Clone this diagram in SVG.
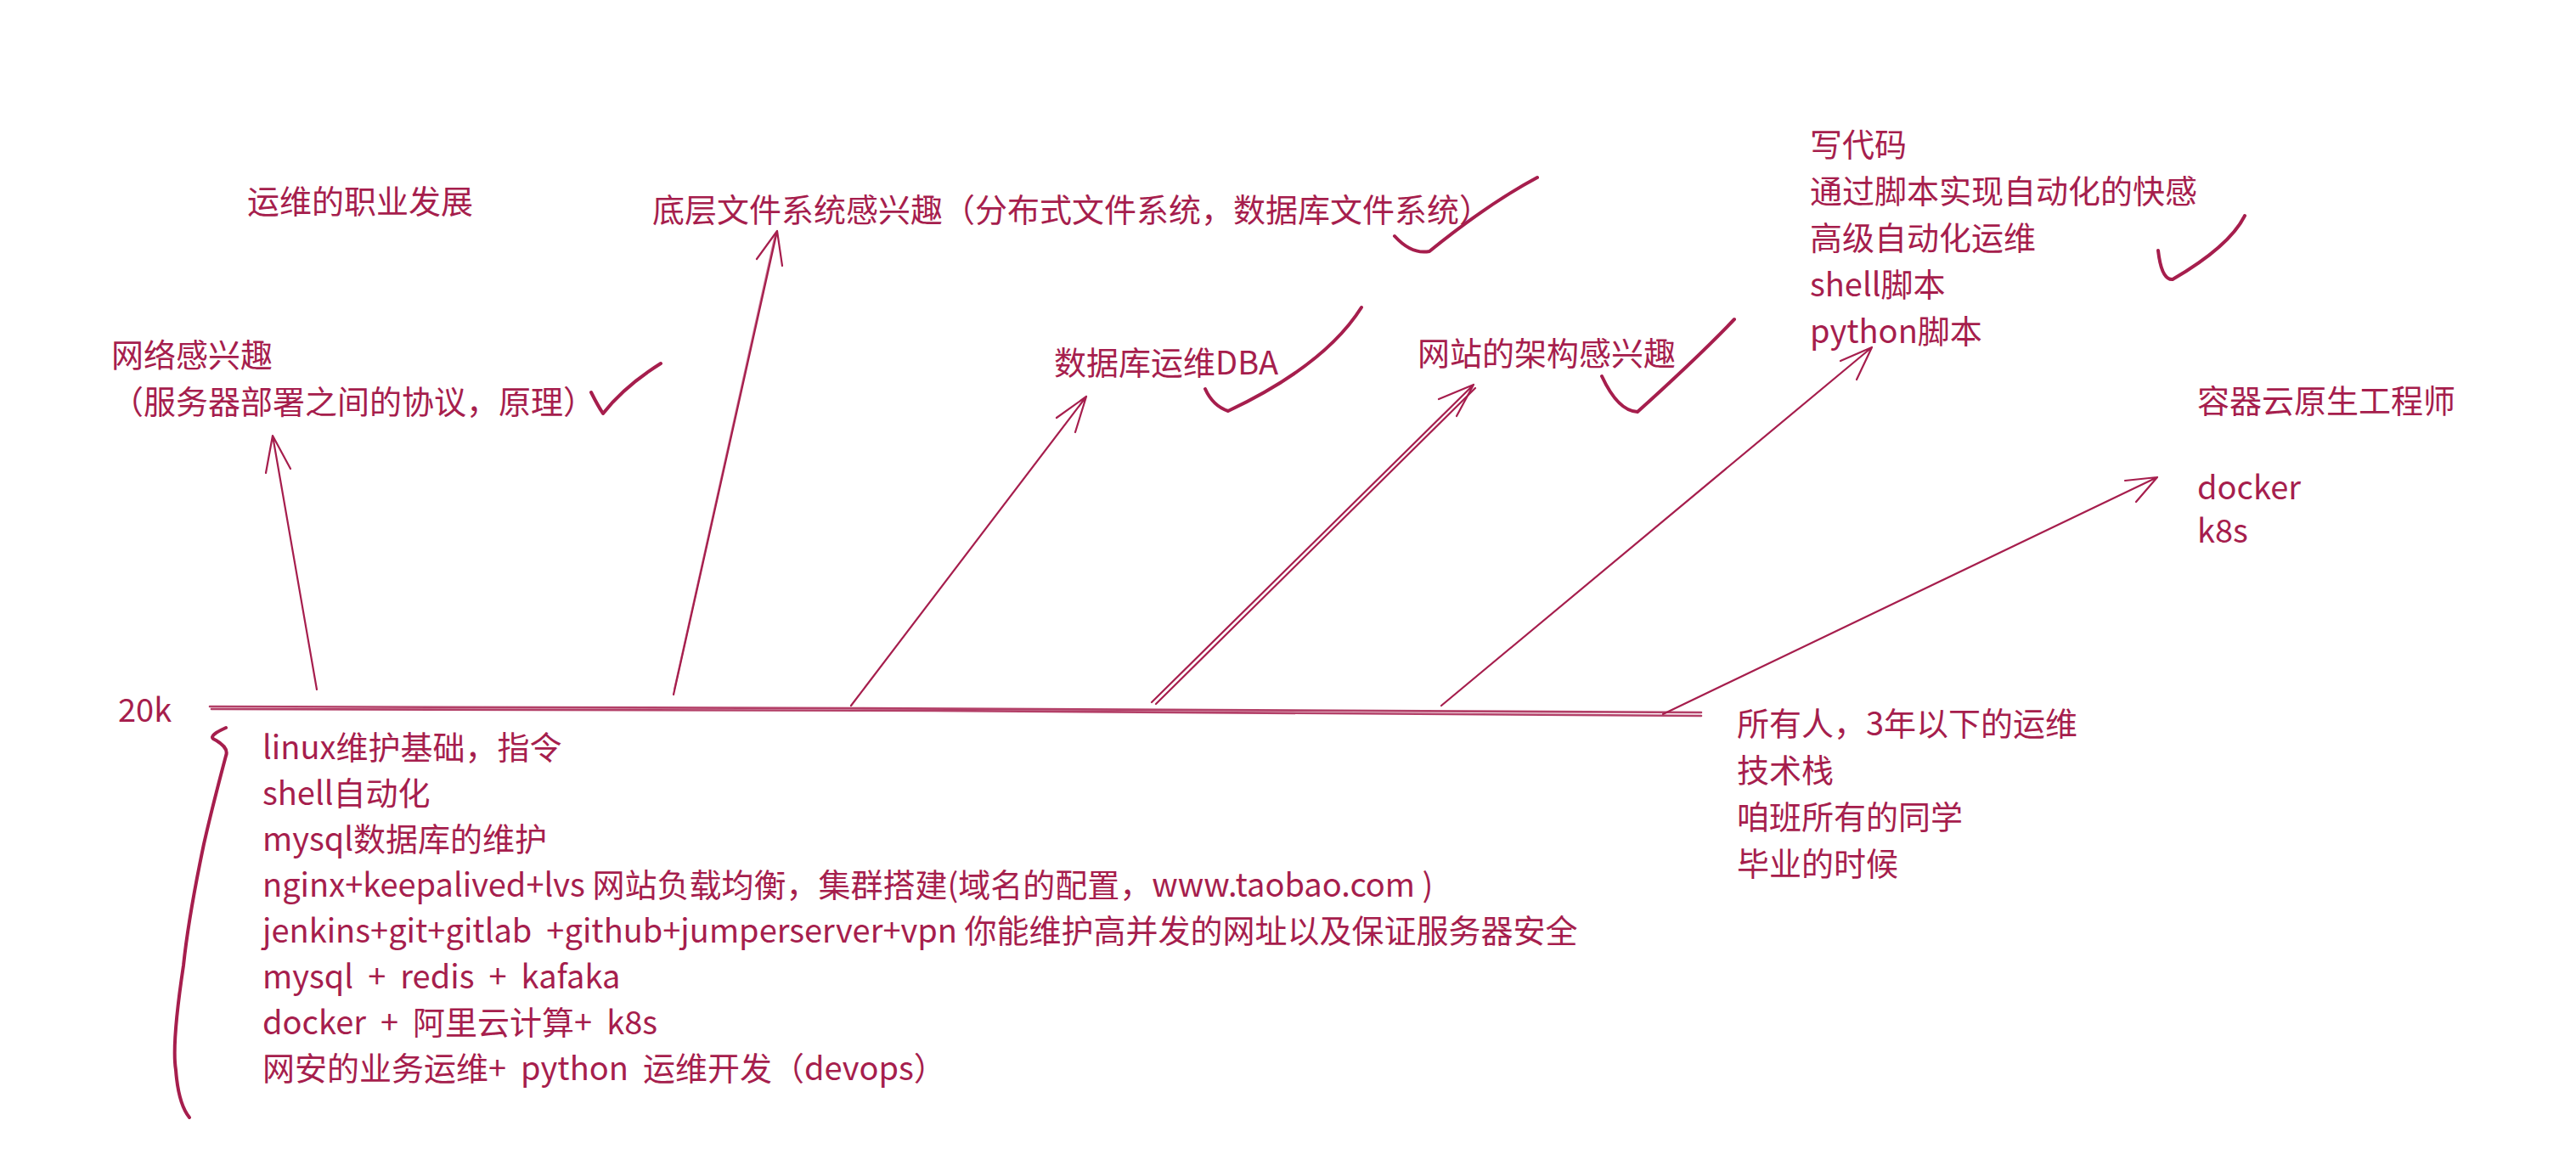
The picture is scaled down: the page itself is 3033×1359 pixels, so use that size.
<svg xmlns="http://www.w3.org/2000/svg" width="3033" height="1359" viewBox="0 0 3033 1359">
<style>
  text { font-family: "Noto Sans CJK SC", "Noto Sans", sans-serif; font-size: 38px; fill: #a61e4d; white-space: pre; }
  .ln { fill: none; stroke: #a61e4d; stroke-width: 2.2; stroke-linecap: round; stroke-linejoin: round; }
  .base { fill: none; stroke: #a61e4d; stroke-width: 2.6; stroke-linecap: round; opacity: 0.85; }
  .chk { fill: none; stroke: #a61e4d; stroke-width: 4; stroke-linecap: round; stroke-linejoin: round; }
</style>
<rect width="3033" height="1359" fill="#ffffff"/>

<g id="title"><text x="291" y="251">运维的职业发展</text></g>

<g id="network">
  <text x="131" y="432">网络感兴趣</text>
  <text x="131" y="487">（服务器部署之间的协议，原理）</text>
  <path class="chk" d="M696,462 Q704,478 710,487 Q735,455 778,428"/>
</g>

<g id="filesystem">
  <text x="768" y="261">底层文件系统感兴趣（分布式文件系统，数据库文件系统）</text>
  <path class="chk" d="M1642,278 Q1662,300 1683,296 Q1752,240 1810,209"/>
</g>

<g id="dba">
  <text x="1241" y="441">数据库运维DBA</text>
  <path class="chk" d="M1419,458 Q1428,478 1446,484 Q1560,430 1603,362"/>
</g>

<g id="arch">
  <text x="1669" y="430">网站的架构感兴趣</text>
  <path class="chk" d="M1886,443 Q1905,484 1928,485 Q2000,420 2042,376"/>
</g>

<g id="code">
  <text x="2131" y="184">写代码</text>
  <text x="2131" y="239">通过脚本实现自动化的快感</text>
  <text x="2131" y="294">高级自动化运维</text>
  <text x="2131" y="349">shell脚本</text>
  <text x="2131" y="404">python脚本</text>
  <path class="chk" d="M2541,295 Q2545,330 2558,329 Q2625,290 2643,254"/>
</g>

<g id="cloud">
  <text x="2587" y="486">容器云原生工程师</text>
  <text x="2587" y="588">docker</text>
  <text x="2587" y="639">k8s</text>
</g>

<g id="level">
  <text x="139" y="850">20k</text>
</g>

<g id="stack">
  <path class="chk" d="M266,857 Q246,866 251,870 Q270,880 266,890 Q250,950 240,994 Q222,1080 216,1137 Q202,1230 207,1260 Q210,1300 223,1316"/>
  <text x="309" y="894">linux维护基础，指令</text>
  <text x="309" y="948">shell自动化</text>
  <text x="309" y="1002">mysql数据库的维护</text>
  <text x="309" y="1056">nginx+keepalived+lvs 网站负载均衡，集群搭建(域名的配置，www.taobao.com )</text>
  <text x="309" y="1110">jenkins+git+gitlab  +github+jumperserver+vpn 你能维护高并发的网址以及保证服务器安全</text>
  <text x="309" y="1164">mysql  +  redis  +  kafaka</text>
  <text x="309" y="1218">docker  +  阿里云计算+  k8s</text>
  <text x="309" y="1272">网安的业务运维+  python  运维开发（devops）</text>
</g>

<g id="everyone">
  <text x="2045" y="866">所有人，3年以下的运维</text>
  <text x="2045" y="921">技术栈</text>
  <text x="2045" y="976">咱班所有的同学</text>
  <text x="2045" y="1031">毕业的时候</text>
</g>

<g id="connectors">
  <path class="base" d="M247,832 L1000,834 L2003,839"/>
  <path class="base" d="M249,835 L1100,837 L2003,843"/>
  <path class="ln" d="M373,812 L321,513 M313,557 L321,513 L342,552"/>
  <path class="ln" d="M793,818 L915,272 M891,305 L915,272 L921,313"/>
  <path class="ln" d="M794,812 L913,276" opacity="0.6"/>
  <path class="ln" d="M1002,831 L1279,467 M1244,492 L1279,467 L1266,509"/>
  <path class="ln" d="M1356,827 L1733,455 M1694,470 L1735,453 L1715,490"/>
  <path class="ln" d="M1361,829 L1737,457"/>
  <path class="ln" d="M1697,831 L2204,409 M2167,425 L2204,409 L2186,447"/>
  <path class="ln" d="M1958,841 L2540,562 M2502,566 L2540,562 L2515,591" stroke-width="2.6"/>
</g>
</svg>
